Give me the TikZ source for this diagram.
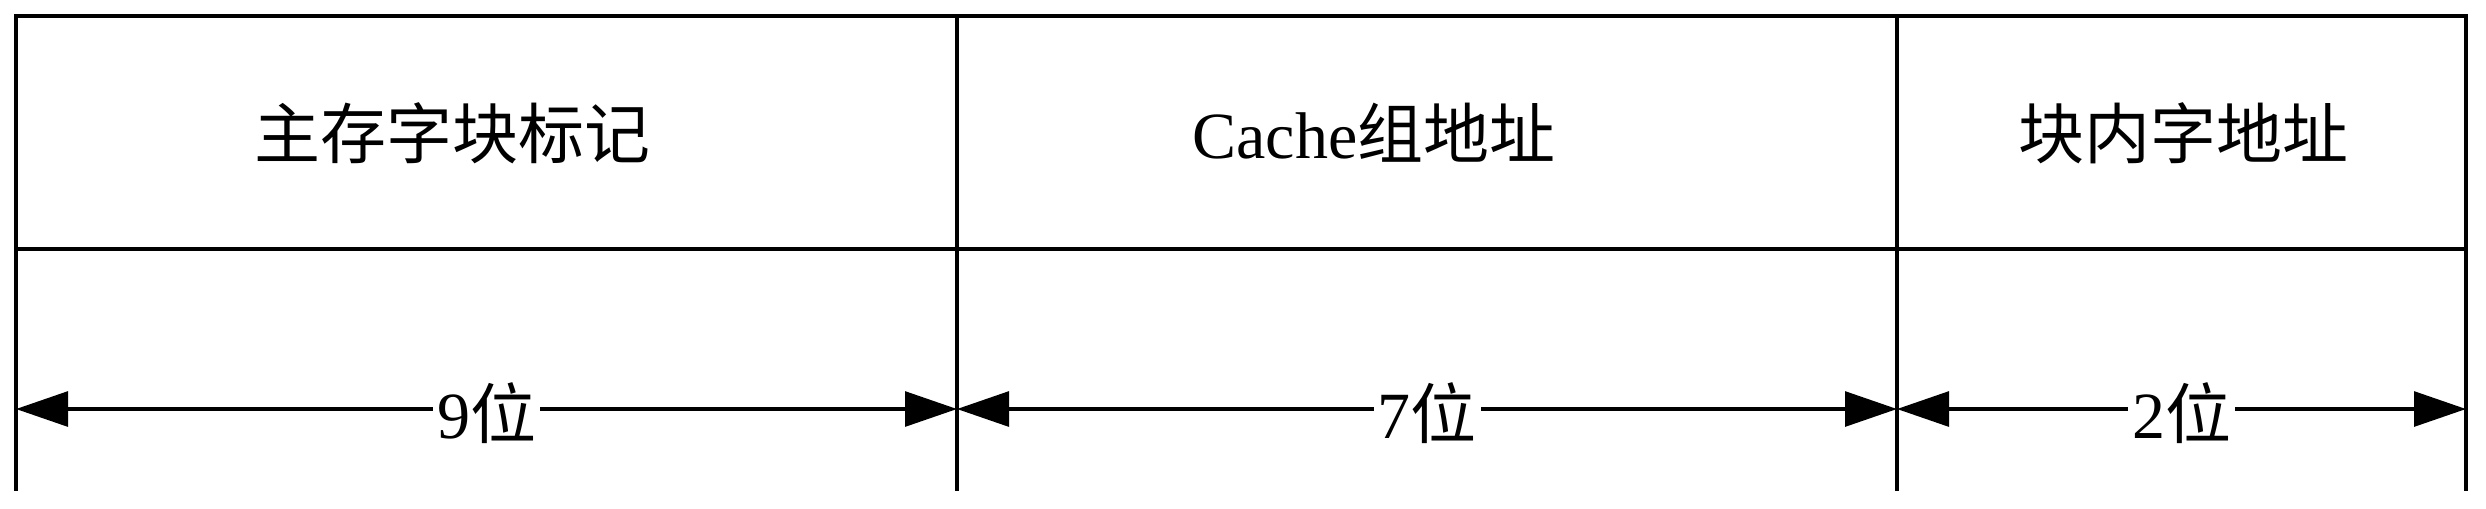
\documentclass[tikz,border=0pt]{standalone}
\usepackage{fontspec}
\setmainfont{Liberation Serif}
\newfontfamily\cjk{Noto Sans CJK SC}
\usetikzlibrary{arrows.meta}
\begin{document}
\begin{tikzpicture}[x=0.25pt,y=-0.25pt,
  frame/.style={line width=0.9pt,line cap=rect},
  dimarrow/.style={line width=0.9pt,{Triangle[length=13pt,width=8.7pt]}-{Triangle[length=13pt,width=8.7pt]}},
  celltext/.style={font=\fontsize{16.5pt}{20pt}\selectfont,inner sep=0pt},
  lbl/.style={font=\fontsize{16.5pt}{20pt}\selectfont,fill=white,inner sep=1pt}]
\useasboundingbox (0,0) rectangle (2486,508);
% grid coordinates
\coordinate (tl) at (16,16);
\coordinate (tr) at (2466,16);
\coordinate (ml) at (16,249);
\coordinate (mr) at (2466,249);
\coordinate (t1) at (957,16);
\coordinate (b1) at (957,489);
\coordinate (t2) at (1897,16);
\coordinate (b2) at (1897,489);
\coordinate (bl) at (16,489);
\coordinate (br) at (2466,489);
\draw[frame] (tl) -- (tr);
\draw[frame] (ml) -- (mr);
\draw[frame] (tl) -- (bl);
\draw[frame] (t1) -- (b1);
\draw[frame] (t2) -- (b2);
\draw[frame] (tr) -- (br);
% cell texts
\node[celltext] (c1) at (452,133) {\cjk 主存字块标记};
\node[celltext] (c2) at (1374,133) {Cache\cjk 组地址};
\node[celltext] (c3) at (2183,133) {\cjk 块内字地址};
% dimension arrows
\coordinate (a0) at (16,409);
\coordinate (a1) at (957,409);
\coordinate (a2) at (1897,409);
\coordinate (a3) at (2466,409);
\draw[dimarrow] (a0) -- node[lbl,yshift=-1pt] (d1) {9{\cjk 位}} (a1);
\draw[dimarrow] (a1) -- node[lbl,yshift=-1pt] (d2) {7{\cjk 位}} (a2);
\draw[dimarrow] (a2) -- node[lbl,yshift=-1pt] (d3) {2{\cjk 位}} (a3);
\end{tikzpicture}
\end{document}
